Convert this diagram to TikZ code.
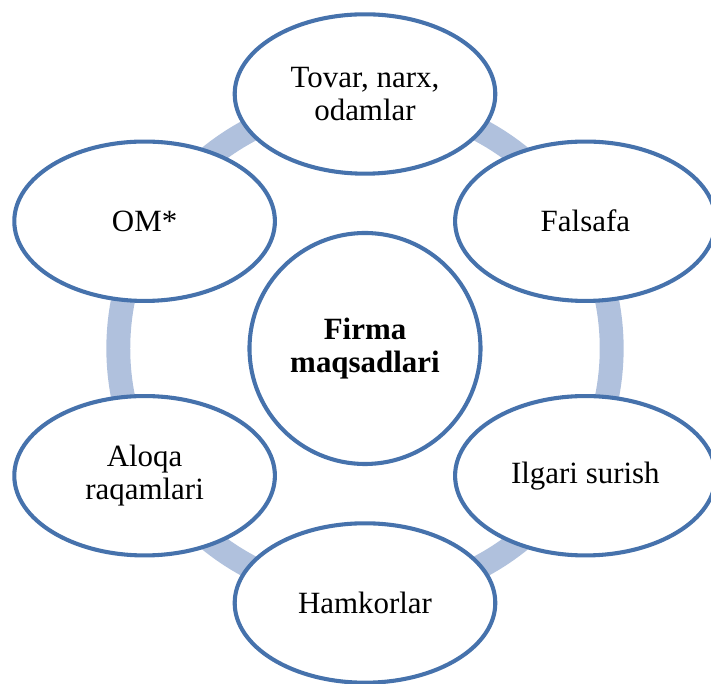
\documentclass[tikz,border=0pt]{standalone}
\usepackage{fontspec}
\setmainfont{Liberation Serif}
\usetikzlibrary{shapes.geometric}
\definecolor{randblau}{RGB}{70,114,172}
\definecolor{ringblau}{RGB}{176,193,221}
\begin{document}
\begin{tikzpicture}[
	ziel/.style={ellipse, draw=randblau, line width=2.9pt, fill=white,
		minimum width=6.515cm, minimum height=3.985cm, inner sep=0pt,
		align=center, font=\fontsize{22}{23.5}\selectfont},
	mitte/.style={circle, draw=randblau, line width=2.9pt, fill=white,
		minimum size=5.775cm, inner sep=0pt,
		align=center, font=\fontsize{22}{23.5}\selectfont\bfseries},
	ring/.style={draw=ringblau, line width=17pt}]
\useasboundingbox (-9.125,-8.3875) rectangle (8.65,8.7125);
% Mitte
\node[mitte] (firma) at (0,0) {Firma\\maqsadlari};
% Ring
\draw[ring] (firma.center) circle (6.1675);
% Ellipsen
\node[ziel] (tovar) at (90:6.3625) {Tovar, narx,\\odamlar};
\node[ziel] (falsafa) at (30:6.3625) {Falsafa};
\node[ziel] (ilgari) at (-30:6.3625) {Ilgari surish};
\node[ziel] (hamkor) at (-90:6.3625) {Hamkorlar};
\node[ziel] (aloqa) at (-150:6.3625) {Aloqa\\raqamlari};
\node[ziel] (om) at (150:6.3625) {OM*};
\end{tikzpicture}
\end{document}
